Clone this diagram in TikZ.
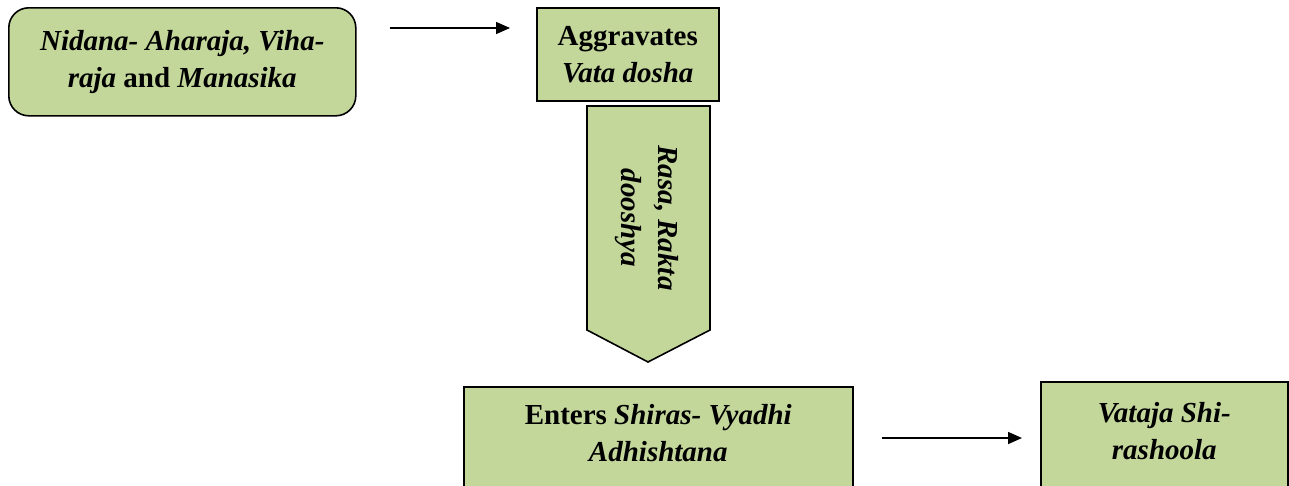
\documentclass[tikz,border=0pt]{standalone}
\usepackage{fontspec}
\setmainfont{Liberation Serif}
\usetikzlibrary{arrows.meta,positioning}
\definecolor{leafgreen}{HTML}{C4D79B}
\begin{document}
\begin{tikzpicture}[x=1pt,y=-1pt,
        box/.style={draw=black, line width=1.6pt, fill=leafgreen, anchor=north west},
        boxtext/.style={align=center, font=\fontsize{29}{37}\selectfont\bfseries},
        link/.style={line width=1.6pt, -{Triangle[length=14pt,width=12pt]}}]
    % frame
    \useasboundingbox (0,0) rectangle (1289,485);
    \clip (0,0) rectangle (1289,485);

    % top row
    \node[box, boxtext, rounded corners=20pt, minimum width=347pt, minimum height=108pt] (nidana) at (8,7)
        {\textit{Nidana- Aharaja, Viha-}\\\textit{raja} and \textit{Manasika}};
    \node[box, boxtext, minimum width=182pt, minimum height=93pt] (aggr) at (536,7)
        {Aggravates\\\textit{Vata dosha}};
    \draw[link] ([shift={(33,21)}]nidana.north east) -- ([shift={(-26,21)}]aggr.north west);

    % down arrow
    \draw[box] (587,106) -- (710,106) -- (710,330) -- (648,362) -- (587,330) -- cycle;
    \node[boxtext, rotate=-90] (dooshya) at (647,218) {\textit{Rasa, Rakta}\\\textit{dooshya}};

    % bottom row
    \node[box, minimum width=389pt, minimum height=130pt] (enters) at (463,386) {};
    \node[boxtext] (entersText) at ([yshift=-47pt]enters.north)
        {Enters \textit{Shiras- Vyadhi}\\\textit{Adhishtana}};
    \node[box, minimum width=247pt, minimum height=130pt] (vataja) at (1040,381) {};
    \node[boxtext] (vatajaText) at ([yshift=-50pt]vataja.north)
        {\textit{Vataja Shi-}\\\textit{rashoola}};
    \draw[link] ([shift={(28,52)}]enters.north east) -- ([shift={(-18,57)}]vataja.north west);
\end{tikzpicture}
\end{document}
